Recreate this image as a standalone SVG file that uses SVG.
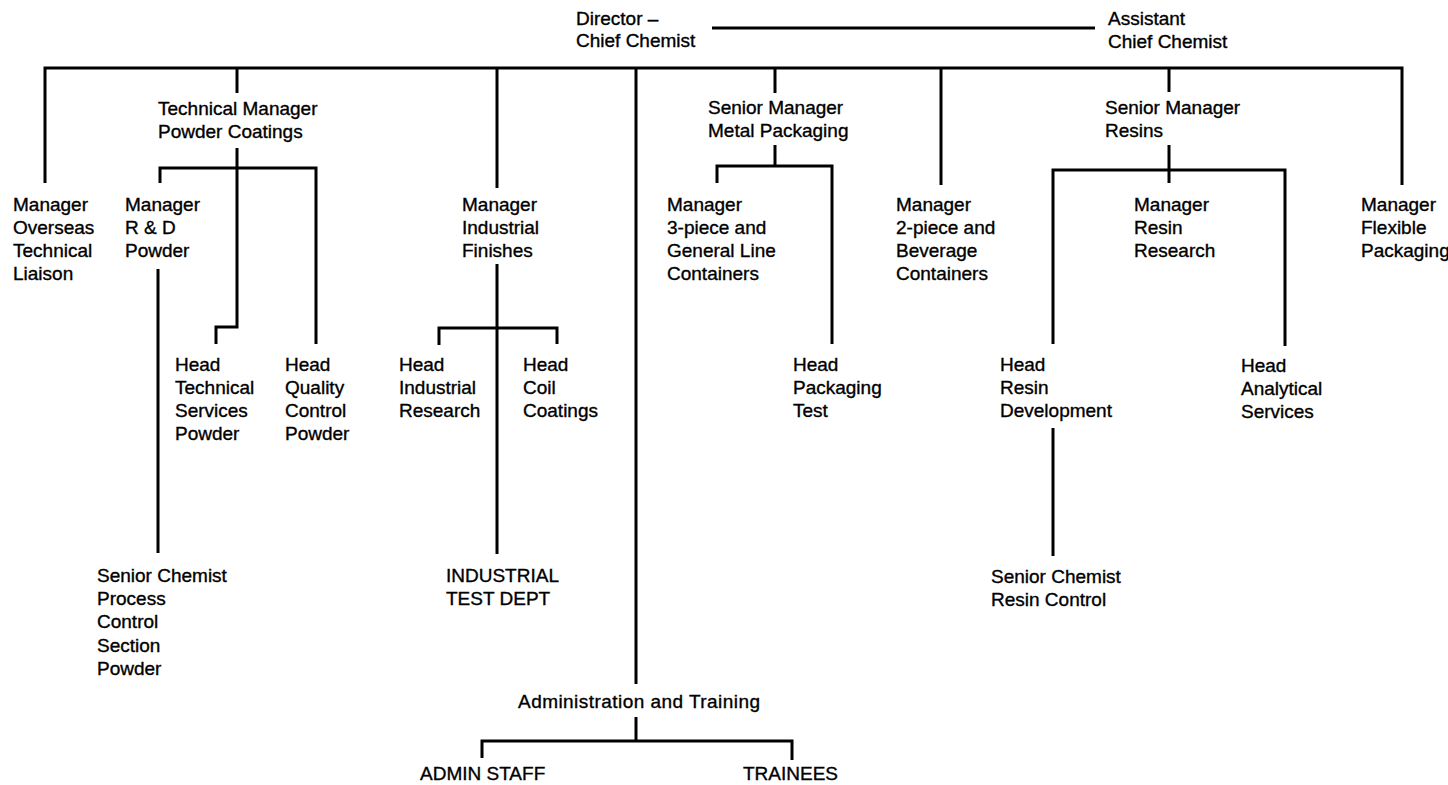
<svg xmlns="http://www.w3.org/2000/svg" width="1448" height="785" viewBox="0 0 1448 785">
<style>
text{font-family:"Liberation Sans",Arial,sans-serif;font-size:19px;fill:#000;stroke:#000;stroke-width:0.35}
.c{fill:none;stroke:#000;stroke-width:3;stroke-linejoin:miter;stroke-linecap:butt}
</style>
<rect width="1448" height="785" fill="#fff"/>
<g id="connectors" class="c">
<path d="M712 28H1095"/>
<path d="M45 183V68H1402V185"/>
<path d="M237 68V93"/>
<path d="M237 148V327H216V344"/>
<path d="M160 183V168H316V344"/>
<path d="M158 269V553"/>
<path d="M497 68V188"/>
<path d="M497 264V554"/>
<path d="M439 345V328H557V344"/>
<path d="M636 68V684"/>
<path d="M636 717V741"/>
<path d="M482 758V741H792V760"/>
<path d="M775 68V93"/>
<path d="M775 145V166"/>
<path d="M717 183V166H832V344"/>
<path d="M941 68V185"/>
<path d="M1169 68V92"/>
<path d="M1169 145V183"/>
<path d="M1053 344V170H1285V346"/>
<path d="M1053 428V556"/>
</g>
<g id="director"><text x="576" y="25">Director –</text><text x="576" y="47">Chief Chemist</text></g>
<g id="assistant"><text x="1108" y="25">Assistant</text><text x="1108" y="48">Chief Chemist</text></g>
<g id="tech-manager"><text x="158" y="115">Technical Manager</text><text x="158" y="138">Powder Coatings</text></g>
<g id="sm-metal"><text x="708" y="114">Senior Manager</text><text x="708" y="137">Metal Packaging</text></g>
<g id="sm-resins"><text x="1105" y="114">Senior Manager</text><text x="1105" y="137">Resins</text></g>
<g id="mgr-overseas"><text x="13" y="211">Manager</text><text x="13" y="234">Overseas</text><text x="13" y="257">Technical</text><text x="13" y="280">Liaison</text></g>
<g id="mgr-rd"><text x="125" y="211">Manager</text><text x="125" y="234">R &amp; D</text><text x="125" y="257">Powder</text></g>
<g id="mgr-industrial"><text x="462" y="211">Manager</text><text x="462" y="234">Industrial</text><text x="462" y="257">Finishes</text></g>
<g id="mgr-3piece"><text x="667" y="211">Manager</text><text x="667" y="234">3-piece and</text><text x="667" y="257">General Line</text><text x="667" y="280">Containers</text></g>
<g id="mgr-2piece"><text x="896" y="211">Manager</text><text x="896" y="234">2-piece and</text><text x="896" y="257">Beverage</text><text x="896" y="280">Containers</text></g>
<g id="mgr-resin-research"><text x="1134" y="211">Manager</text><text x="1134" y="234">Resin</text><text x="1134" y="257">Research</text></g>
<g id="mgr-flexible"><text x="1361" y="211">Manager</text><text x="1361" y="234">Flexible</text><text x="1361" y="257">Packaging</text></g>
<g id="head-tech-services"><text x="175" y="371">Head</text><text x="175" y="394">Technical</text><text x="175" y="417">Services</text><text x="175" y="440">Powder</text></g>
<g id="head-quality"><text x="285" y="371">Head</text><text x="285" y="394">Quality</text><text x="285" y="417">Control</text><text x="285" y="440">Powder</text></g>
<g id="head-industrial-research"><text x="399" y="371">Head</text><text x="399" y="394">Industrial</text><text x="399" y="417">Research</text></g>
<g id="head-coil"><text x="523" y="371">Head</text><text x="523" y="394">Coil</text><text x="523" y="417">Coatings</text></g>
<g id="head-packaging"><text x="793" y="371">Head</text><text x="793" y="394">Packaging</text><text x="793" y="417">Test</text></g>
<g id="head-resin-dev"><text x="1000" y="371">Head</text><text x="1000" y="394">Resin</text><text x="1000" y="417">Development</text></g>
<g id="head-analytical"><text x="1241" y="372">Head</text><text x="1241" y="395">Analytical</text><text x="1241" y="418">Services</text></g>
<g id="senior-chemist-process"><text x="97" y="582">Senior Chemist</text><text x="97" y="605">Process</text><text x="97" y="628">Control</text><text x="97" y="652">Section</text><text x="97" y="675">Powder</text></g>
<g id="industrial-test"><text x="446" y="582">INDUSTRIAL</text><text x="446" y="605">TEST DEPT</text></g>
<g id="senior-chemist-resin"><text x="991" y="583">Senior Chemist</text><text x="991" y="606">Resin Control</text></g>
<g id="admin-training"><text x="518" y="708" textLength="242">Administration and Training</text></g>
<g id="admin-staff"><text x="420" y="780">ADMIN STAFF</text></g>
<g id="trainees"><text x="743" y="780">TRAINEES</text></g>
</svg>
